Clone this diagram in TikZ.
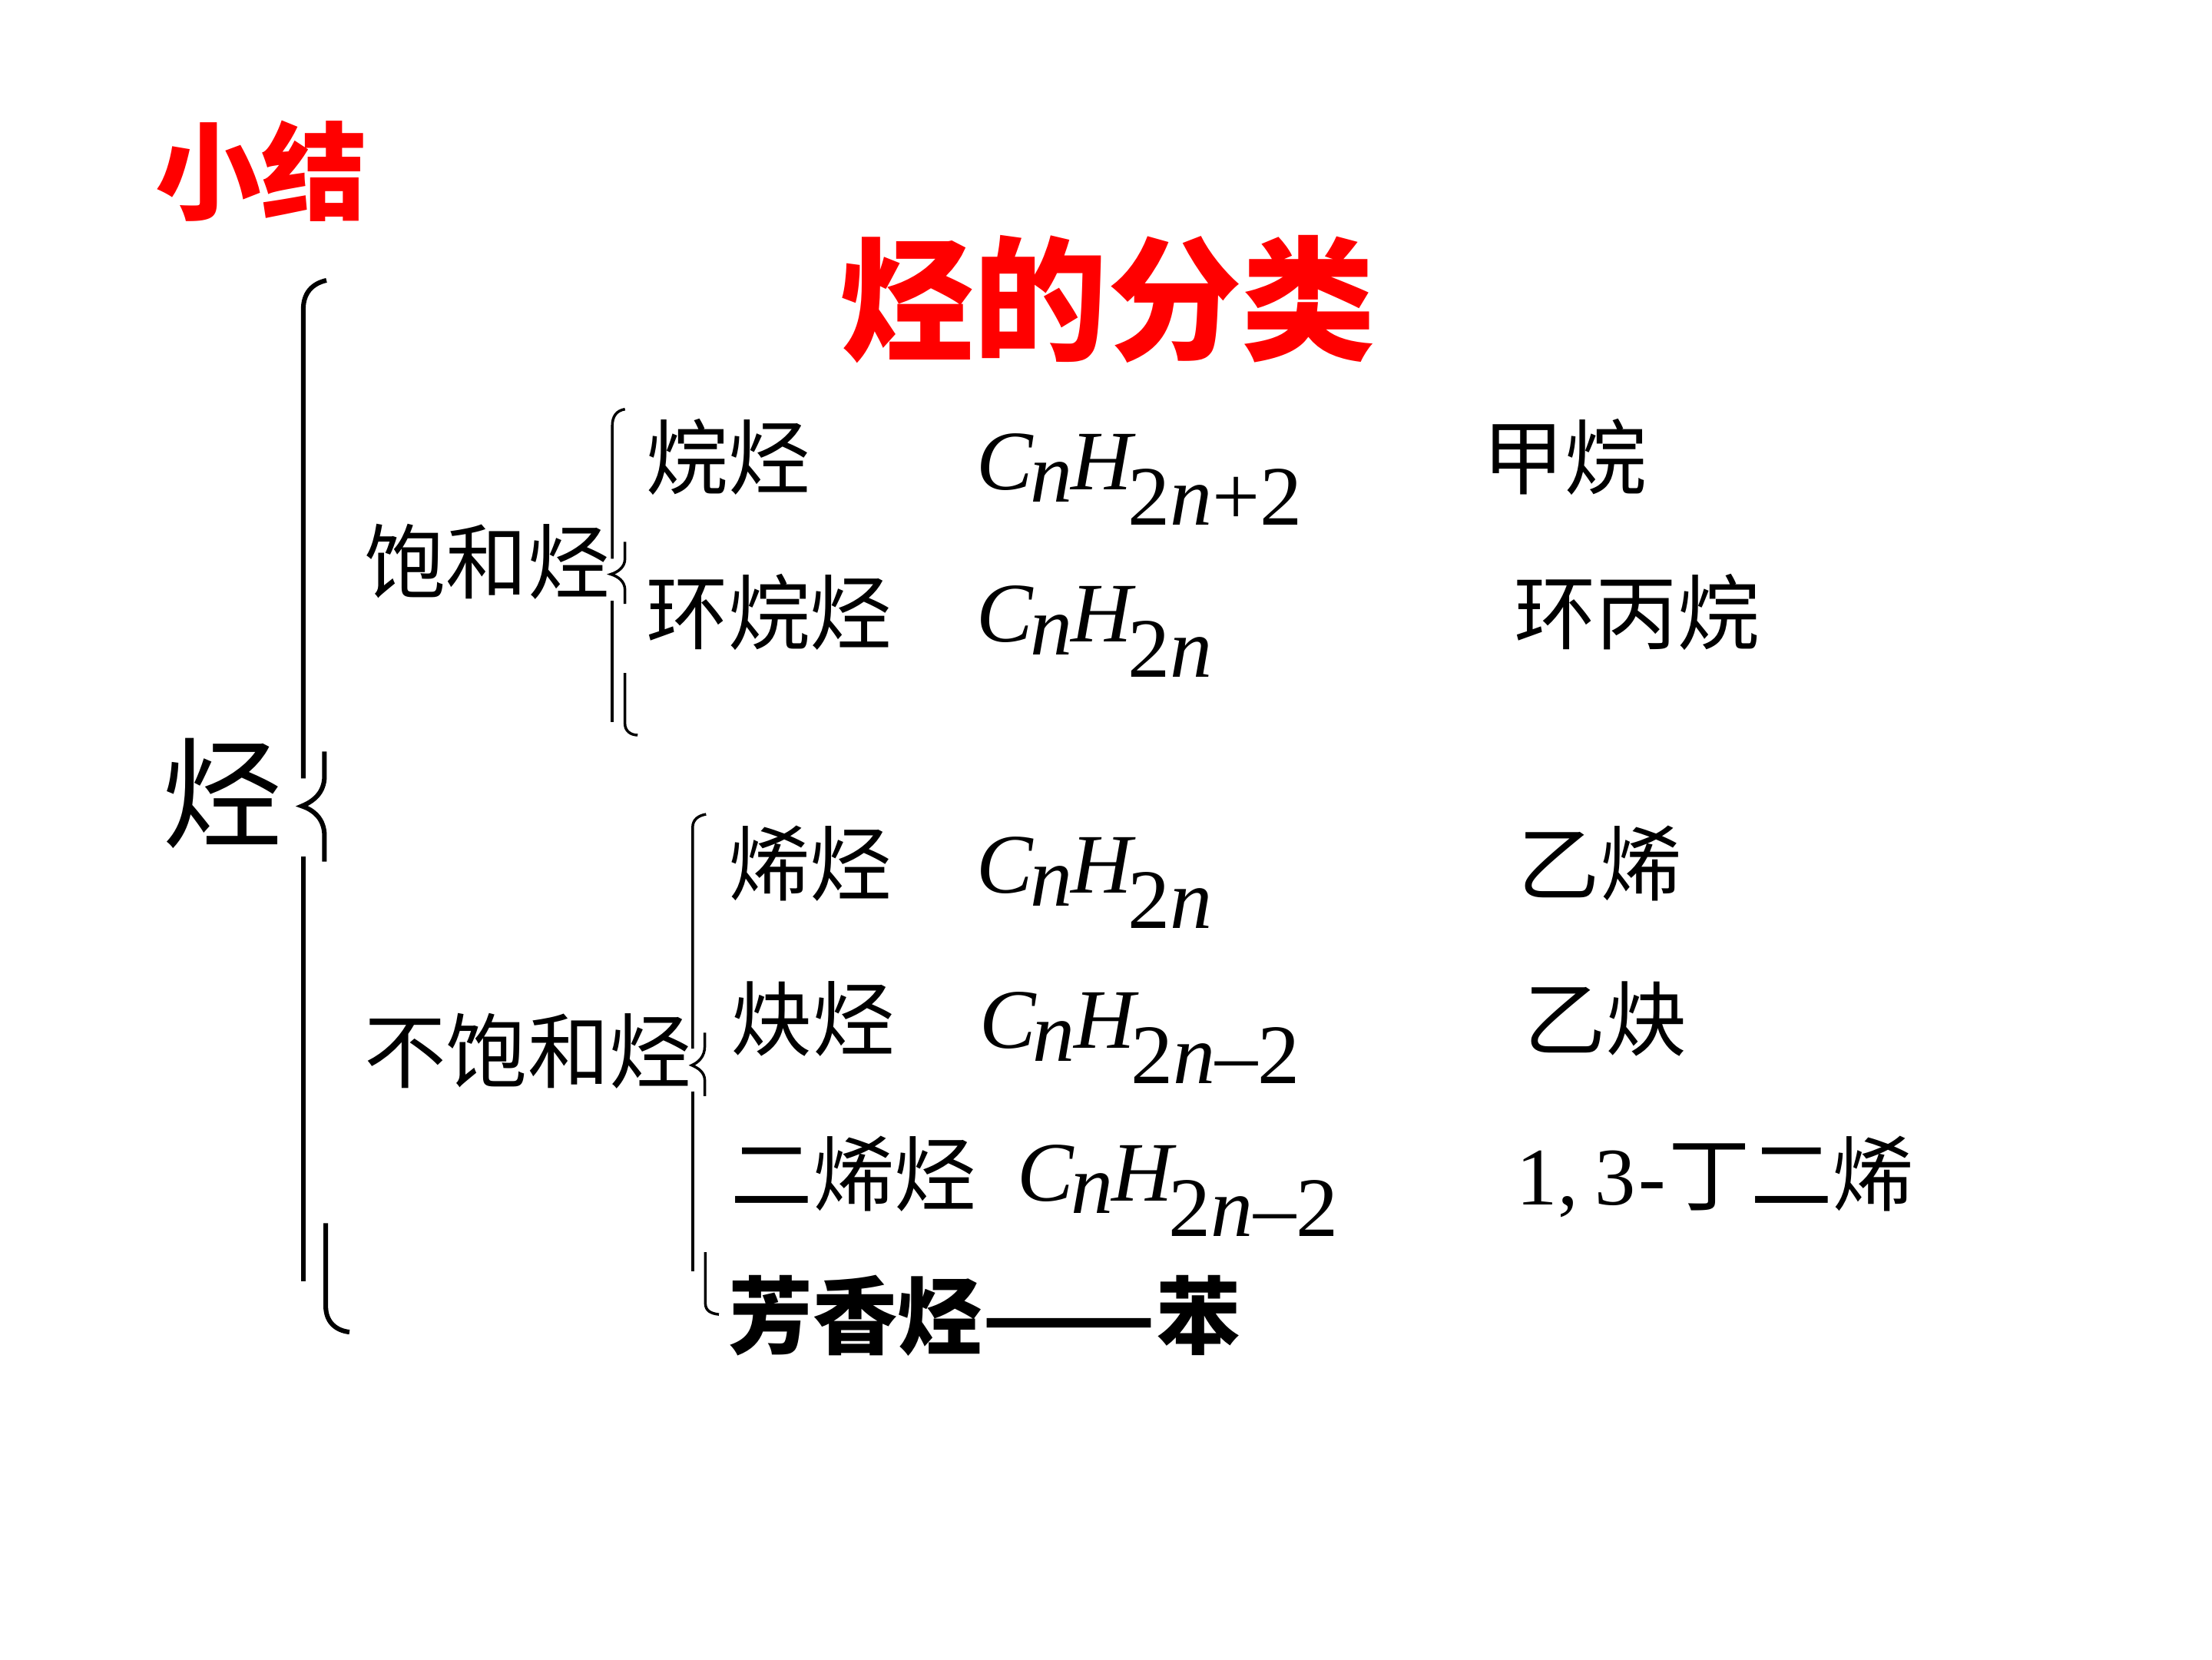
\documentclass[tikz,border=0pt]{standalone}
\usepackage{fontspec}
\usepackage{graphicx}
\setmainfont{Liberation Serif}
\newfontfamily\cjk{Noto Sans CJK SC}
\newfontfamily\tms{Liberation Serif}
\definecolor{tred}{RGB}{255,0,0}
\newcommand\fmla[1]{{\tms\fontsize{60}{62}\selectfont\itshape C\kern-2pt\raisebox{-9pt}{n}\kern-1pt H\kern-3pt\raisebox{-25pt}{#1}}}
\begin{document}
\begin{tikzpicture}[x=1pt,y=-1pt,
  cn/.style={anchor=base west,inner sep=0pt,font=\cjk\fontsize{58}{60}\selectfont},
  fm/.style={anchor=base west,inner sep=0pt},
  redtitle/.style={anchor=base west,inner sep=0pt,text=tred},
  bigbrace/.style={line width=3.3pt},
  smallbrace/.style={line width=1.9pt}]
\useasboundingbox (0,0) rectangle (1568,1176);
% titles
\node[redtitle,font=\cjk\bfseries\fontsize{75}{78}\selectfont] (xj) at (110,150) {小结};
\node[redtitle,font=\cjk\bfseries\fontsize{95}{98}\selectfont] (title) at (595,248) {烃的分类};
% left labels
\node[cn,font=\cjk\fontsize{85}{88}\selectfont] (ting) at (115,594) {烃};
\node[cn] (bh) at (258,420) {饱和烃};
\node[cn] (bbh) at (258,767) {不饱和烃};
% big brace
\draw[bigbrace] (231.4,198.7) .. controls (221,201) and (215,208) .. (215,219) -- (215,551.7);
\draw[bigbrace] (215,607) -- (215,908.3);
\draw[bigbrace] (230,532.7) -- (230,550) .. controls (230,562) and (222,568) .. (214,571.3) .. controls (222,574) and (230,580) .. (230,592.5) -- (230,610.7);
\draw[bigbrace] (230.9,866.9) -- (230.9,925.6) .. controls (230.9,937) and (238,943) .. (247.7,944.1);
% brace 1
\draw[smallbrace] (443,290) .. controls (437,291) and (434,295) .. (434,302) -- (434,396);
\draw[smallbrace] (434,426) -- (434,512);
\draw[smallbrace] (443,384) -- (443,396) .. controls (443,402) and (438,405.5) .. (433,407) .. controls (438,408.5) and (443,412) .. (443,418) -- (443,428);
\draw[smallbrace] (443,477) -- (443,513) .. controls (443,518) and (447,521) .. (452,521);
% brace 2
\draw[smallbrace] (500.5,577.1) .. controls (495,578) and (491,581) .. (491,586.2) -- (491,743.2);
\draw[smallbrace] (491,773.5) -- (491,901.1);
\draw[smallbrace] (499.6,731.9) -- (499.6,741.4) .. controls (499.6,749) and (495,753) .. (490.4,755) .. controls (495,757) and (499.6,760) .. (499.6,765.9) -- (499.6,776.8);
\draw[smallbrace] (500,887.5) -- (500,923.8) .. controls (500,929) and (504,931) .. (509.6,931.6);
% rows
\node[cn] (r1a) at (458,346) {烷烃};
\node[fm] (r1b) at (692,347) {\fmla{\upshape 2\itshape n\upshape +2}};
\node[cn] (r1c) at (1051,346) {甲烷};
\node[cn] (r2a) at (458,456) {环烷烃};
\node[fm] (r2b) at (692,455) {\fmla{\upshape 2\itshape n}};
\node[cn] (r2c) at (1073,456) {环丙烷};
\node[cn] (r3a) at (516,634) {烯烃};
\node[fm] (r3b) at (692,633) {\fmla{\upshape 2\itshape n}};
\node[cn] (r3c) at (1076,634) {乙烯};
\node[cn] (r4a) at (518,744) {炔烃};
\node[fm] (r4b) at (694,743) {\fmla{\upshape 2\itshape n\upshape –2}};
\node[cn] (r4c) at (1080,744) {乙炔};
\node[cn] (r5a) at (518,854) {二烯烃};
\node[fm] (r5b) at (721,851) {\fmla{\upshape 2\itshape n\upshape –2}};
\node[cn] (r5c) at (1075,854) {{\tms 1,\kern12pt3\kern2pt-}\kern2pt丁二烯};
\node[cn,font=\cjk\bfseries\fontsize{60}{62}\selectfont] (r6) at (516,955) {芳香烃\scalebox{1.2}[1]{——}苯};
\end{tikzpicture}
\end{document}
